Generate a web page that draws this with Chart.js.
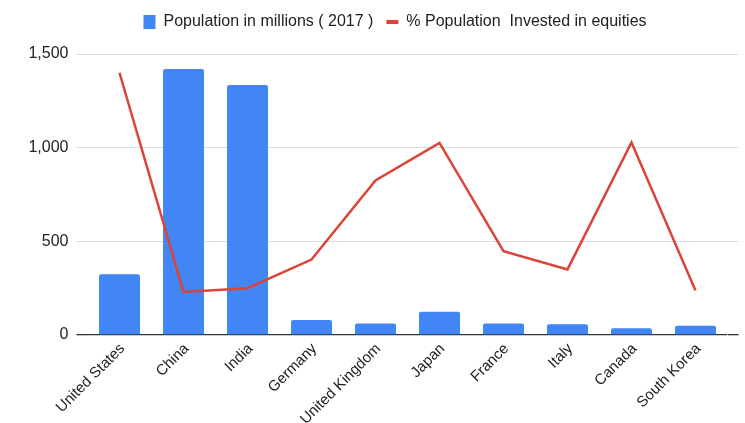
<!DOCTYPE html>
<html>
<head>
<meta charset="utf-8">
<script src="https://cdn.jsdelivr.net/npm/chart.js@4"></script>
<style>
html,body{margin:0;padding:0;background:#fff;}
#wrap{width:745px;height:423px;position:relative;}
</style>
</head>
<body>
<div id="wrap"><canvas id="c" width="745" height="423"></canvas></div>
<script>
const categories = ["United States","China","India","Germany","United Kingdom","Japan","France","Italy","Canada","South Korea"];
const population = [324, 1420, 1335, 80, 62, 124, 62, 57, 36, 50];
const investedPct = [56, 9.2, 10, 16.1, 33, 41, 17.9, 14, 41.1, 9.5];
const yTicks = [0, 500, 1000, 1500];
const seriesNames = ["Population in millions ( 2017 )", "% Population  Invested in equities"];

const BLUE = "#4285F4", RED = "#DB4437";
const FONT = "'Liberation Sans', Arial, sans-serif";

const legendGap = {
  id: "legendGap",
  beforeInit(chart) {
    const fit = chart.legend.fit;
    chart.legend.fit = function () { fit.bind(this)(); this.height += 14; };
  },
  afterLayout(chart) {
    chart.legend.left += 11;
    chart.legend.right += 11;
  }
};

new Chart(document.getElementById("c"), {
  plugins: [legendGap],
  data: {
    labels: categories,
    datasets: [
      { type: "line", label: seriesNames[1], data: investedPct, yAxisID: "y1",
        borderColor: RED, backgroundColor: RED, borderWidth: 2.5, pointRadius: 0, tension: 0, order: 0 },
      { type: "bar", label: seriesNames[0], data: population, yAxisID: "y",
        backgroundColor: BLUE, borderWidth: 0, borderRadius: {topLeft: 2, topRight: 2},
        categoryPercentage: 0.8, barPercentage: 0.8, order: 1 }
    ]
  },
  options: {
    responsive: false,
    animation: false,
    layout: { padding: { left: 29.5, right: 6.5, top: 1, bottom: 0 } },
    plugins: {
      tooltip: { enabled: false },
      legend: {
        position: "top",
        reverse: true,
        labels: {
          font: { family: FONT, size: 16 },
          color: "#222",
          usePointStyle: true,
          pointStyleWidth: 12,
          boxHeight: 14,
          padding: 13,
          generateLabels: (chart) => {
            const items = Chart.defaults.plugins.legend.labels.generateLabels(chart);
            items.forEach(it => {
              if (it.text === seriesNames[0]) { it.pointStyle = "rect"; it.lineWidth = 0; it.fillStyle = BLUE; }
              else { it.pointStyle = "line"; it.lineWidth = 4; it.strokeStyle = RED; }
            });
            return items;
          }
        }
      }
    },
    scales: {
      x: {
        offset: true,
        grid: { display: false },
        border: { display: false },
        ticks: { font: { family: FONT, size: 15 }, color: "#222", minRotation: 45, maxRotation: 45,
                 padding: -3, labelOffset: 3 },
        afterFit: s => { s.height = 88; }
      },
      y: {
        position: "left",
        min: 0, max: 1500,
        afterBuildTicks: s => { s.ticks = yTicks.map(v => ({ value: v })); },
        ticks: { font: { family: FONT, size: 16 }, color: "#222", padding: 8,
                 callback: v => v.toLocaleString("en-US") },
        grid: { color: c => (c.tick && c.tick.value === 0) ? "#333" : "#dcdcdc",
                lineWidth: c => (c.tick && c.tick.value === 0) ? 1.3 : 1,
                tickLength: 11 },
        border: { display: false },
        afterFit: s => { s.width = 58; }
      },
      y1: {
        position: "right",
        min: 0, max: 60,
        afterBuildTicks: s => { s.ticks = yTicks.map(v => ({ value: v * 60 / 1500 })); },
        ticks: { display: false },
        grid: { drawOnChartArea: false, tickLength: 11,
                color: c => (c.tick && c.tick.value === 0) ? "#333" : "#dcdcdc",
                lineWidth: c => (c.tick && c.tick.value === 0) ? 1.3 : 1 },
        border: { display: false },
        afterFit: s => { s.width = 11; }
      }
    }
  }
});
</script>
</body>
</html>
